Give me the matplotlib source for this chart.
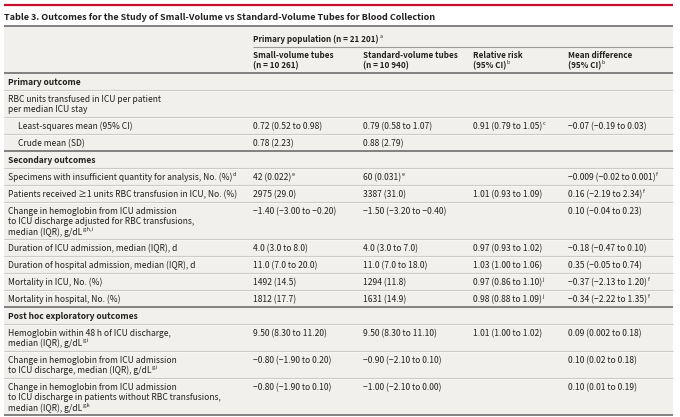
import matplotlib
matplotlib.use("Agg")
import matplotlib.pyplot as plt

# ---------------- data ----------------
title = "Table 3. Outcomes for the Study of Small-Volume vs Standard-Volume Tubes for Blood Collection"
group_header = "Primary population (n = 21 201)^a"
col_headers = [
    "Small-volume tubes\n(n = 10 261)",
    "Standard-volume tubes\n(n = 10 940)",
    "Relative risk\n(95% CI)^b",
    "Mean difference\n(95% CI)^b",
]

row_labels = [
    "Primary outcome",
    "RBC units transfused in ICU per patient\nper median ICU stay",
    "Least-squares mean (95% CI)",
    "Crude mean (SD)",
    "Secondary outcomes",
    "Specimens with insufficient quantity for analysis, No. (%)^d",
    "Patients received \u22651 units RBC transfusion in ICU, No. (%)",
    "Change in hemoglobin from ICU admission\nto ICU discharge adjusted for RBC transfusions,\nmedian (IQR), g/dL^g,h,i",
    "Duration of ICU admission, median (IQR), d",
    "Duration of hospital admission, median (IQR), d",
    "Mortality in ICU, No. (%)",
    "Mortality in hospital, No. (%)",
    "Post hoc exploratory outcomes",
    "Hemoglobin within 48 h of ICU discharge,\nmedian (IQR), g/dL^g,i",
    "Change in hemoglobin from ICU admission\nto ICU discharge, median (IQR), g/dL^g,i",
    "Change in hemoglobin from ICU admission\nto ICU discharge in patients without RBC transfusions,\nmedian (IQR), g/dL^g,k",
]
row_kinds = ["section", "label", "sub", "sub", "section", "label", "label", "label",
             "label", "label", "label", "label", "section", "label", "label", "label"]

small_vals = ["", "", "0.72 (0.52 to 0.98)", "0.78 (2.23)", "", "42 (0.022)^e", "2975 (29.0)",
              "\u22121.40 (\u22123.00 to \u22120.20)", "4.0 (3.0 to 8.0)", "11.0 (7.0 to 20.0)",
              "1492 (14.5)", "1812 (17.7)", "", "9.50 (8.30 to 11.20)",
              "\u22120.80 (\u22121.90 to 0.20)", "\u22120.80 (\u22121.90 to 0.10)"]
std_vals = ["", "", "0.79 (0.58 to 1.07)", "0.88 (2.79)", "", "60 (0.031)^e", "3387 (31.0)",
            "\u22121.50 (\u22123.20 to \u22120.40)", "4.0 (3.0 to 7.0)", "11.0 (7.0 to 18.0)",
            "1294 (11.8)", "1631 (14.9)", "", "9.50 (8.30 to 11.10)",
            "\u22120.90 (\u22122.10 to 0.10)", "\u22121.00 (\u22122.10 to 0.00)"]
rr_vals = ["", "", "0.91 (0.79 to 1.05)^c", "", "", "", "1.01 (0.93 to 1.09)", "",
           "0.97 (0.93 to 1.02)", "1.03 (1.00 to 1.06)", "0.97 (0.86 to 1.10)^j",
           "0.98 (0.88 to 1.09)^j", "", "1.01 (1.00 to 1.02)", "", ""]
md_vals = ["", "", "\u22120.07 (\u22120.19 to 0.03)", "", "", "\u22120.009 (\u22120.02 to 0.001)^f",
           "0.16 (\u22122.19 to 2.34)^f", "0.10 (\u22120.04 to 0.23)", "\u22120.18 (\u22120.47 to 0.10)",
           "0.35 (\u22120.05 to 0.74)", "\u22120.37 (\u22122.13 to 1.20)^f", "\u22120.34 (\u22122.22 to 1.35)^f",
           "", "0.09 (0.002 to 0.18)", "0.10 (0.02 to 0.18)", "0.10 (0.01 to 0.19)"]

# ---------------- style ----------------
FAM = ["Noto Sans CJK JP", "Lato", "DejaVu Sans"]
TXT = "#231f20"
BG = "#f1f0ec"
LIGHT = "#cdcbc6"
DARK = "#6e6e6e"
RED = "#c8102e"

W, H = 680, 417
fig = plt.figure(figsize=(W / 100, H / 100), dpi=100)
ax = fig.add_axes([0, 0, 1, 1])
ax.set_xlim(0, W)
ax.set_ylim(H, 0)
ax.axis("off")
renderer = fig.canvas.get_renderer()


def fit_size(s, weight, target, base=10.0):
    t = ax.text(0, 0, s, fontsize=base, family=FAM, fontweight=weight)
    w = t.get_window_extent(renderer).width
    t.remove()
    return base * target / w


BODY = fit_size("Specimens with insufficient quantity for analysis, No. (%)", "normal", 225)
HEAD = fit_size("Standard-volume tubes", "bold", 95)
TITLE = fit_size(title, "bold", 433)

L, R = 4, 673
col_x = [253, 363, 473, 568]
label_x, sub_x = 8, 18
LINE_GAP = 10.4


def rich(x, y, s, size, weight="normal", gap=LINE_GAP):
    if "^" in s:
        main, sup = s.split("^", 1)
    else:
        main, sup = s, ""
    lines = main.split("\n")
    t = None
    for i, ln in enumerate(lines):
        t = ax.text(x, y + i * gap, ln, fontsize=size, fontweight=weight, color=TXT,
                    family=FAM, va="baseline", ha="left")
    if sup:
        bb = t.get_window_extent(renderer)
        x1 = ax.transData.inverted().transform((bb.x1, bb.y0))[0]
        ax.text(x1 + 0.6, y + (len(lines) - 1) * gap - 3.8, sup, fontsize=size * 0.66,
                fontweight="normal", color=TXT, family=FAM, va="baseline", ha="left")


def hline(y, color, lw, x0=L, x1=R):
    ax.plot([x0, x1], [y, y], color=color, lw=lw, solid_capstyle="butt")


# background
ax.add_patch(plt.Rectangle((L, 26), R - L, 415 - 26, color=BG, lw=0, zorder=0))

# top red rule & title
hline(4.5, RED, 1.6)
rich(L, 19.5, title, TITLE, weight="bold")
hline(26, DARK, 1.2)

# header
rich(col_x[0], 42, group_header, HEAD, weight="bold")
hline(46.5, "#9a9a9a", 0.8, x0=col_x[0], x1=R)
for cx, ch in zip(col_x, col_headers):
    rich(cx, 57.5, ch, HEAD, weight="bold", gap=10.5)
hline(73, DARK, 1.2)

# body
y = 73.0
for i, lab in enumerate(row_labels):
    n = lab.count("\n") + 1
    h = 17 + (n - 1) * 10
    base = y + 11.8
    kind = row_kinds[i]
    if kind == "section":
        rich(label_x, base, lab, BODY, weight="bold")
    elif kind == "sub":
        rich(sub_x, base, lab, BODY)
    else:
        rich(label_x, base, lab, BODY)
    for cx, vals in zip(col_x, [small_vals, std_vals, rr_vals, md_vals]):
        if vals[i]:
            rich(cx, base, vals[i], BODY)
    y += h
    if i == len(row_labels) - 1:
        hline(y, DARK, 1.2)
    elif row_kinds[i + 1] == "section":
        hline(y, DARK, 1.2)
    else:
        hline(y, LIGHT, 0.8)
        hline(y + 0.9, "#fbfaf8", 0.5)

fig.savefig("out.png", dpi=100, facecolor="white")
